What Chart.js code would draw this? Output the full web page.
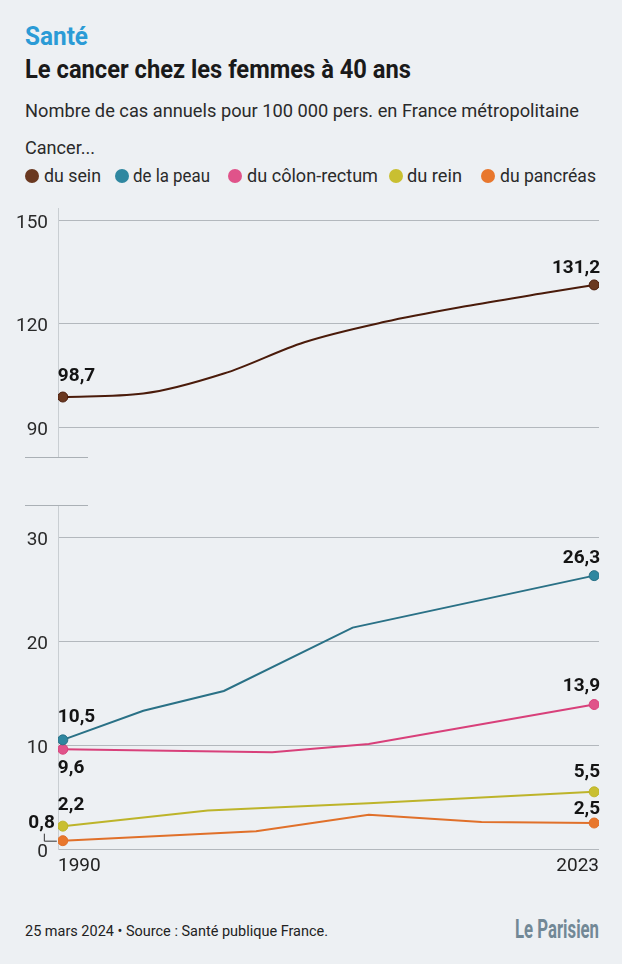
<!DOCTYPE html>
<html lang="fr">
<head>
<meta charset="utf-8">
<script src="https://cdn.jsdelivr.net/npm/chart.js@4.4.1/dist/chart.umd.min.js"></script>
<style>
  html, body { margin: 0; padding: 0; }
  body {
    width: 622px; height: 964px; position: relative; overflow: hidden;
    background: #edf0f3; color: #1d1d1d;
    font-family: Roboto, "Liberation Sans", sans-serif;
  }
  .t { position: absolute; left: 25px; white-space: nowrap; line-height: 1; transform-origin: 0 0; }
  #kicker { top: 23px; font-size: 26px; font-weight: bold; color: #2b9bd6; }
  #title { top: 56px; font-size: 26px; font-weight: bold; color: #1a1a1a; }
  #subtitle { top: 101px; font-size: 19px; color: #2a2a2a; }
  #cancer { top: 138px; font-size: 19px; color: #2a2a2a; }
  .dot { position: absolute; top: 169px; width: 14px; height: 14px; border-radius: 50%; }
  .leg { top: 166px; left: 0; font-size: 19px; color: #2a2a2a; }
  canvas { position: absolute; left: 0; }
  #topChart { top: 200px; }
  #bottomChart { top: 500px; }
  .brk { position: absolute; left: 25px; width: 63px; height: 1px; background: #aab0b5; }
  #footer { top: 924px; font-size: 15px; color: #222; }
  #logo { left: 515px; top: 917px; font-size: 25px; font-weight: bold; color: #728896; }
</style>
</head>
<body>
<div class="t" id="kicker">Santé</div>
<div class="t" id="title">Le cancer chez les femmes à 40 ans</div>
<div class="t" id="subtitle">Nombre de cas annuels pour 100 000 pers. en France métropolitaine</div>
<div class="t" id="cancer">Cancer...</div>
<div id="legend"></div>

<canvas id="topChart" width="622" height="262"></canvas>
<div class="brk" style="top:457px"></div>
<div class="brk" style="top:505px"></div>
<canvas id="bottomChart" width="622" height="380"></canvas>

<div class="t" id="footer">25 mars 2024 • Source : Santé publique France.</div>
<div class="t" id="logo">Le Parisien</div>

<script>
const seriesNames = ['du sein', 'de la peau', 'du côlon-rectum', 'du rein', 'du pancréas'];
const seriesColors = ['#6a3820', '#2f87a0', '#e0538a', '#c9bf31', '#e8772d'];

const seinYears = [1990, 1995, 2000, 2005, 2010, 2015, 2020, 2023];
const seinValues = [98.7, 99.7, 105.5, 114.6, 120.5, 125.0, 128.9, 131.2];
const peauYears = [1990, 1995, 2000, 2008, 2023];
const peauValues = [10.5, 13.3, 15.2, 21.3, 26.3];
const colonYears = [1990, 2003, 2009, 2023];
const colonValues = [9.6, 9.3, 10.1, 13.9];
const reinYears = [1990, 1999, 2009, 2023];
const reinValues = [2.2, 3.7, 4.4, 5.5];
const pancreasYears = [1990, 2002, 2009, 2016, 2023];
const pancreasValues = [0.8, 1.7, 3.3, 2.6, 2.5];

const topTicks = [90, 120, 150];
const bottomTicks = [0, 10, 20, 30];
const xTickLabels = ['1990', '2023'];

const FONT = 'Roboto, "Liberation Sans", sans-serif';

// squeeze a text horizontally to the width it has in the original (condensed font)
function fitWidth(el, w) {
    el.style.transform = 'none';
    const cur = el.getBoundingClientRect().width;
    el.style.transform = `scaleX(${w / cur})`;
}

// legend (html): circle x, text x, text width
const legendPos = [[25, 44, 57], [115, 133, 77], [228, 247, 131], [389, 407, 55], [481, 500, 96]];
const legend = document.getElementById('legend');
const legendTexts = [];
seriesNames.forEach((name, i) => {
    const dot = document.createElement('div');
    dot.className = 'dot';
    dot.style.left = legendPos[i][0] + 'px';
    dot.style.background = seriesColors[i];
    legend.appendChild(dot);
    const t = document.createElement('div');
    t.className = 't leg';
    t.style.left = legendPos[i][1] + 'px';
    t.textContent = name;
    legend.appendChild(t);
    legendTexts.push(t);
});

function toPoints(xs, ys) {
    return xs.map((x, i) => ({ x: x, y: ys[i] }));
}

function fmt(v) {
    return v.toFixed(1).replace('.', ',');
}

// valeurs de début et de fin écrites à côté des points
const endLabels = {
    id: 'endLabels',
    afterDatasetsDraw(chart) {
        const ctx = chart.ctx;
        chart.data.datasets.forEach((ds, i) => {
            const pts = chart.getDatasetMeta(i).data;
            [[0, ds.firstLabel], [pts.length - 1, ds.lastLabel]].forEach(([idx, p]) => {
                const pt = pts[idx];
                ctx.save();
                ctx.font = 'bold 19px ' + FONT;
                ctx.fillStyle = '#141414';
                ctx.textAlign = p.align;
                ctx.textBaseline = 'middle';
                ctx.fillText(fmt(ds.data[idx].y), pt.x + p.dx, pt.y + p.dy);
                if (p.leader) {
                    ctx.strokeStyle = '#333';
                    ctx.lineWidth = 1;
                    ctx.beginPath();
                    ctx.moveTo(pt.x - 18.5, pt.y - 7);
                    ctx.lineTo(pt.x - 18.5, pt.y + 0.5);
                    ctx.lineTo(pt.x - 6, pt.y + 0.5);
                    ctx.stroke();
                }
                ctx.restore();
            });
        });
    }
};

function makeDataset(label, xs, ys, color, lineColor, first, last, extra) {
    return Object.assign({
        label: label,
        data: toPoints(xs, ys),
        borderColor: lineColor,
        borderWidth: 2,
        backgroundColor: color,
        pointBackgroundColor: color,
        pointBorderColor: lineColor,
        pointBorderWidth: 1,
        pointRadius: ctx => (ctx.dataIndex === 0 || ctx.dataIndex === xs.length - 1) ? 5 : 0,
        tension: 0,
        fill: false,
        firstLabel: first,
        lastLabel: last
    }, extra || {});
}

function baseOptions(yMin, yMax, yTicks, padTop, padBottom, showX) {
    return {
        responsive: false,
        animation: false,
        events: [],
        layout: { padding: { top: padTop, right: 23, bottom: padBottom, left: 0 } },
        plugins: { legend: { display: false }, tooltip: { enabled: false } },
        scales: {
            x: {
                type: 'linear',
                display: showX,
                min: 1989.7,
                max: 2023.3,
                afterBuildTicks: scale => { scale.ticks = [{ value: scale.min }, { value: scale.max }]; },
                afterFit: scale => {
                    scale.height = showX ? 31 : 0;
                    scale.paddingLeft = 0;
                    scale.paddingRight = 0;
                },
                grid: { display: false, drawTicks: false },
                border: { display: false },
                ticks: {
                    align: 'inner',
                    padding: 6,
                    color: '#222',
                    font: { family: FONT, size: 19 },
                    callback: (v, i) => xTickLabels[i]
                }
            },
            y: {
                min: yMin,
                max: yMax,
                afterBuildTicks: scale => { scale.ticks = yTicks.map(v => ({ value: v })); },
                afterFit: scale => { scale.width = 58; scale.paddingTop = 0; scale.paddingBottom = 0; },
                grid: { color: '#b3b8bd', lineWidth: 1, drawTicks: false },
                border: { display: true, color: '#c9ced2', width: 1 },
                ticks: {
                    padding: 10,
                    labelOffset: 3,
                    color: '#2a2a2a',
                    font: { family: FONT, size: 19 }
                }
            }
        }
    };
}

document.fonts.ready.then(() => {
    fitWidth(document.getElementById('kicker'), 63);
    fitWidth(document.getElementById('title'), 386);
    fitWidth(document.getElementById('subtitle'), 554);
    fitWidth(document.getElementById('cancer'), 70);
    fitWidth(document.getElementById('footer'), 303);
    fitWidth(document.getElementById('logo'), 84);
    legendTexts.forEach((t, i) => fitWidth(t, legendPos[i][2]));

    new Chart(document.getElementById('topChart'), {
        type: 'line',
        data: {
            datasets: [
                makeDataset(seriesNames[0], seinYears, seinValues, seriesColors[0], '#4a1b0a',
                    { dx: -5, dy: -21, align: 'left' }, { dx: 6, dy: -17, align: 'right' },
                    { cubicInterpolationMode: 'monotone' })
            ]
        },
        options: baseOptions(81.6, 153.5, topTicks, 8, 5, false),
        plugins: [endLabels]
    });

    new Chart(document.getElementById('bottomChart'), {
        type: 'line',
        data: {
            datasets: [
                makeDataset(seriesNames[1], peauYears, peauValues, seriesColors[1], '#2a7186',
                    { dx: -5, dy: -23, align: 'left' }, { dx: 6, dy: -17, align: 'right' }),
                makeDataset(seriesNames[2], colonYears, colonValues, seriesColors[2], '#d8407a',
                    { dx: -5, dy: 19, align: 'left' }, { dx: 6, dy: -18, align: 'right' }),
                makeDataset(seriesNames[3], reinYears, reinValues, seriesColors[3], '#bdb42a',
                    { dx: -5, dy: -21, align: 'left' }, { dx: 6, dy: -20, align: 'right' }),
                makeDataset(seriesNames[4], pancreasYears, pancreasValues, seriesColors[4], '#e0702a',
                    { dx: -8, dy: -17, align: 'right', leader: true }, { dx: 6, dy: -14, align: 'right' })
            ]
        },
        options: baseOptions(0, 33, bottomTicks, 5, 0, true),
        plugins: [endLabels]
    });
});
</script>
</body>
</html>
